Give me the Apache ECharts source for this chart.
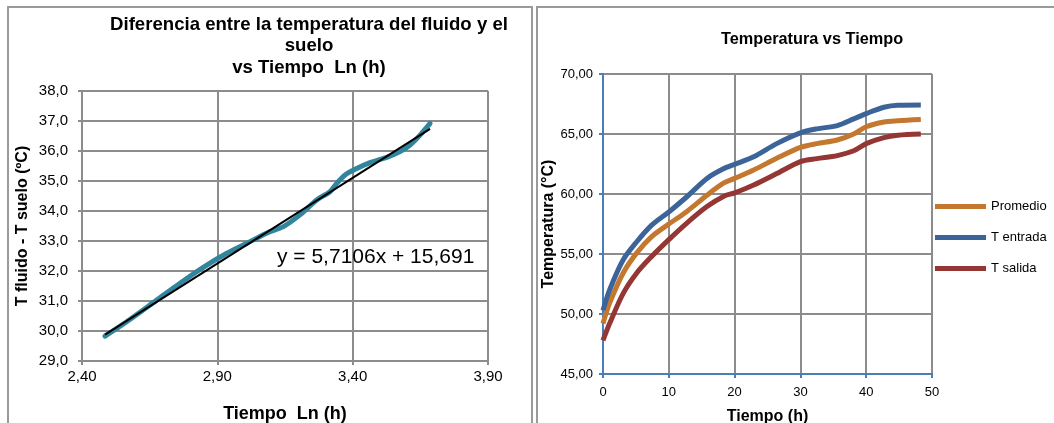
<!DOCTYPE html>
<html>
<head>
<meta charset="utf-8">
<script src="https://cdn.jsdelivr.net/npm/echarts@6/dist/echarts.min.js"></script>
<style>
html,body{margin:0;padding:0;background:#fff;}
#c{width:1054px;height:423px;}
</style>
</head>
<body>
<div id="c"></div>
<script>
// ---- Left chart data: T fluido - T suelo vs Ln(t) ----
const lnTime = [2.485, 2.565, 2.676, 2.762, 2.848, 2.935, 3.008, 3.082, 3.144, 3.205, 3.267, 3.316, 3.341, 3.372, 3.409, 3.464, 3.526, 3.575, 3.612, 3.649, 3.686];
const deltaT = [29.83, 30.31, 31.03, 31.59, 32.12, 32.59, 32.92, 33.26, 33.48, 33.87, 34.37, 34.64, 34.92, 35.20, 35.39, 35.61, 35.79, 35.98, 36.20, 36.53, 36.92];
const trendSlope = 5.7106;
const trendIntercept = 15.691;
const trendRange = [2.485, 3.686];
const leftXTicks = [2.40, 2.90, 3.40, 3.90];
const leftYTicks = [29, 30, 31, 32, 33, 34, 35, 36, 37, 38];

// ---- Right chart data: Temperatura vs Tiempo ----
const timeH = [0, 1, 3.05, 5.1, 7.4, 10, 12.7, 15.8, 18.3, 20, 22.9, 26.4, 30, 32.5, 35.6, 38.1, 40, 42.7, 44.8, 48.3];
const tEntrada = [50.3, 52.0, 54.5, 56.0, 57.4, 58.5, 59.75, 61.3, 62.1, 62.47, 63.1, 64.2, 65.1, 65.43, 65.7, 66.26, 66.7, 67.23, 67.4, 67.42];
const promedio = [49.2, 50.9, 53.4, 55.07, 56.45, 57.5, 58.53, 59.9, 60.9, 61.3, 62.0, 62.97, 63.88, 64.2, 64.5, 65.0, 65.6, 66.0, 66.1, 66.2];
const tSalida = [47.8, 49.2, 51.7, 53.4, 54.8, 56.2, 57.56, 58.95, 59.8, 60.1, 60.75, 61.7, 62.7, 62.95, 63.2, 63.6, 64.2, 64.7, 64.9, 65.0];
const rightXTicks = [0, 10, 20, 30, 40, 50];
const rightYTicks = [45, 50, 55, 60, 65, 70];
const seriesNames = ['Promedio', 'T entrada', 'T salida'];

const FONT = "'Liberation Sans', Arial, sans-serif";
const GRID = '#8c8c8c';
const BLUEAXIS = '#4a7ebb';

const zip = (a, b) => a.map((v, i) => [v, b[i]]);
const comma = d => v => v.toFixed(d).replace('.', ',');

const chart = echarts.init(document.getElementById('c'), null, {renderer: 'canvas'});
chart.setOption({
  backgroundColor: '#fff',
  animation: false,
  textStyle: {fontFamily: FONT},
  title: [
    {
      text: 'Diferencia entre la temperatura del fluido y el\nsuelo\nvs Tiempo  Ln (h)',
      left: 304, top: 41, textAlign: 'center', textVerticalAlign: 'middle',
      textStyle: {fontFamily: FONT, fontSize: 18.6, fontWeight: 'bold', color: '#000', lineHeight: 21.5}
    },
    {
      text: 'Temperatura vs Tiempo',
      left: 807, top: 34.5, textAlign: 'center', textVerticalAlign: 'middle',
      textStyle: {fontFamily: FONT, fontSize: 16.3, fontWeight: 'bold', color: '#000'}
    }
  ],
  legend: {
    data: seriesNames,
    orient: 'vertical',
    left: 935, top: 200, padding: 0,
    itemWidth: 51, itemHeight: 5, itemGap: 18,
    icon: 'rect',
    textStyle: {fontFamily: FONT, fontSize: 13, color: '#000'}
  },
  grid: [
    {left: 82, top: 91, width: 406, height: 270, outerBoundsMode: 'none', containLabel: false},
    {left: 603, top: 74, width: 329, height: 300, outerBoundsMode: 'none', containLabel: false}
  ],
  xAxis: [
    {
      gridIndex: 0, type: 'value',
      min: leftXTicks[0], max: leftXTicks[leftXTicks.length - 1], interval: 0.5,
      name: 'Tiempo  Ln (h)', nameLocation: 'middle', nameGap: 44,
      nameTextStyle: {fontFamily: FONT, fontSize: 18, fontWeight: 'bold', color: '#000'},
      axisLine: {lineStyle: {color: GRID, width: 2}},
      axisTick: {show: true, length: 4, lineStyle: {color: GRID, width: 2}},
      axisLabel: {formatter: comma(2), fontFamily: FONT, fontSize: 15, color: '#000', margin: 8},
      splitLine: {show: true, lineStyle: {color: GRID, width: 2}}
    },
    {
      gridIndex: 1, type: 'value',
      min: rightXTicks[0], max: rightXTicks[rightXTicks.length - 1], interval: 10,
      name: 'Tiempo (h)', nameLocation: 'middle', nameGap: 35,
      nameTextStyle: {fontFamily: FONT, fontSize: 16, fontWeight: 'bold', color: '#000'},
      axisLine: {lineStyle: {color: BLUEAXIS, width: 2}},
      axisTick: {show: true, length: 4, lineStyle: {color: BLUEAXIS, width: 2}},
      axisLabel: {fontFamily: FONT, fontSize: 13, color: '#000', margin: 12},
      splitLine: {show: true, lineStyle: {color: GRID, width: 2}}
    }
  ],
  yAxis: [
    {
      gridIndex: 0, type: 'value',
      min: leftYTicks[0], max: leftYTicks[leftYTicks.length - 1], interval: 1,
      name: 'T fluido - T suelo (ºC)', nameLocation: 'middle', nameGap: 51,
      nameTextStyle: {fontFamily: FONT, fontSize: 16, fontWeight: 'bold', color: '#000'},
      axisLine: {show: true, lineStyle: {color: GRID, width: 2}},
      axisTick: {show: true, length: 4, lineStyle: {color: GRID, width: 2}},
      axisLabel: {formatter: comma(1), fontFamily: FONT, fontSize: 15, color: '#000', margin: 14},
      splitLine: {show: true, lineStyle: {color: GRID, width: 2}}
    },
    {
      gridIndex: 1, type: 'value',
      min: rightYTicks[0], max: rightYTicks[rightYTicks.length - 1], interval: 5,
      name: 'Temperatura (°C)', nameLocation: 'middle', nameGap: 38,
      nameTextStyle: {fontFamily: FONT, fontSize: 16, fontWeight: 'bold', color: '#000'},
      axisLine: {show: true, lineStyle: {color: BLUEAXIS, width: 2}},
      axisTick: {show: true, length: 4, lineStyle: {color: BLUEAXIS, width: 2}},
      axisLabel: {formatter: comma(2), fontFamily: FONT, fontSize: 13, color: '#000', margin: 10},
      splitLine: {show: true, lineStyle: {color: GRID, width: 2}}
    }
  ],
  series: [
    {
      name: 'Diferencia', type: 'line', xAxisIndex: 0, yAxisIndex: 0,
      data: zip(lnTime, deltaT), smooth: 0.3, showSymbol: false,
      lineStyle: {color: '#31859c', width: 5, cap: 'round', join: 'round'},
      itemStyle: {color: '#31859c'}
    },
    {
      name: 'Tendencia', type: 'line', xAxisIndex: 0, yAxisIndex: 0,
      data: trendRange.map(x => [x, trendSlope * x + trendIntercept]),
      showSymbol: false,
      lineStyle: {color: '#000', width: 2},
      itemStyle: {color: '#000'}
    },
    {
      name: seriesNames[0], type: 'line', xAxisIndex: 1, yAxisIndex: 1,
      data: zip(timeH, promedio), smooth: 0.3, showSymbol: false,
      lineStyle: {color: '#c4782f', width: 5},
      itemStyle: {color: '#c4782f'}
    },
    {
      name: seriesNames[1], type: 'line', xAxisIndex: 1, yAxisIndex: 1,
      data: zip(timeH, tEntrada), smooth: 0.3, showSymbol: false,
      lineStyle: {color: '#3c6499', width: 5},
      itemStyle: {color: '#3c6499'}
    },
    {
      name: seriesNames[2], type: 'line', xAxisIndex: 1, yAxisIndex: 1,
      data: zip(timeH, tSalida), smooth: 0.3, showSymbol: false,
      lineStyle: {color: '#943634', width: 5},
      itemStyle: {color: '#943634'}
    }
  ],
  graphic: [
    {type: 'rect', shape: {x: 8, y: 7, width: 524, height: 440}, style: {fill: 'none', stroke: '#9a9a9a', lineWidth: 2}, silent: true},
    {type: 'rect', shape: {x: 537, y: 7, width: 540, height: 440}, style: {fill: 'none', stroke: '#9a9a9a', lineWidth: 2}, silent: true},
    {type: 'text', left: 277, top: 247, style: {text: 'y = 5,7106x + 15,691', fontFamily: FONT, fontSize: 21, fill: '#000'}, z: 10}
  ]
});
</script>
</body>
</html>
